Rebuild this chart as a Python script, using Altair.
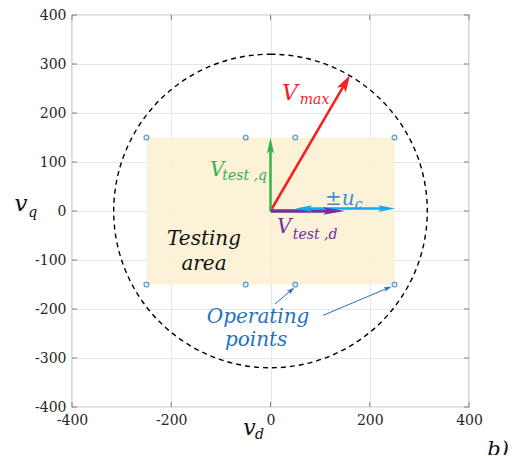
import math
import altair as alt
import pandas as pd

# ---------------- data ----------------
axis_min, axis_max = -400, 400
x_tick_values = [-400, -200, 0, 200, 400]
y_tick_values = [-400, -300, -200, -100, 0, 100, 200, 300, 400]

circle_radius = [320]

area_d = [-250, 250]
area_q = [-150, 150]

op_d = [-250, -50, 50, 250, -250, -50, 50, 250]
op_q = [150, 150, 150, 150, -150, -150, -150, -150]

# vectors: name, start d, start q, end d, end q
vec_names = ["Vmax", "Vtestq", "Vtestd", "uc_right", "uc_left", "ann1", "ann2"]
vec_d0 = [0, 0, 0, 150, 150, 9, 106]
vec_q0 = [0, 0, 0, 5, 5, -190, -213]
vec_d1 = [160, 0, 150, 251, 50, 48, 244]
vec_q1 = [277, 150, 0, 5, 5, -156, -154]

# texts
txt_pieces = ["Testing", "area", "Operating", "points",
              "V", "max", "V", "test ,q", "V", "test ,d", "±u", "c",
              "v", "q", "v", "d", "b)"]
txt_d = [-134, -134, -25, -29,
         23, 59, -122, -97, 13, 45, 110, 170,
         -516, -488, -55, -31, 437]
txt_q = [-69, -120, -229, -275,
         227, 219, 71, 63, -45, -57, 13, 5,
         -1, -13, -458, -466, -500]

# ---------------- styles ----------------
RED = "#f41f1f"
GREEN = "#35b24a"
PURPLE = "#7030a0"
CYAN = "#12aaf0"
BLUE_TXT = "#1f72c2"
UC_TXT = "#3d8ddb"
PT = "#2f86c6"
FILL = "#fcf0d2"

W, H = 397, 392
px_per_unit = W / 800

vec_style = {
    "Vmax": dict(color=RED, width=2.5, head=17, hw=0.3),
    "Vtestq": dict(color=GREEN, width=2.5, head=16, hw=0.22),
    "Vtestd": dict(color=PURPLE, width=3.5, head=22, hw=0.17),
    "uc_right": dict(color=CYAN, width=2.5, head=17, hw=0.2),
    "uc_left": dict(color=CYAN, width=2.5, head=17, hw=0.2),
    "ann1": dict(color=BLUE_TXT, width=1, head=8, hw=0.3),
    "ann2": dict(color=BLUE_TXT, width=1, head=8, hw=0.3),
}

txt_style = [
    ("center", 20, "#111111"), ("center", 20, "#111111"),
    ("center", 20, BLUE_TXT), ("center", 20, BLUE_TXT),
    ("left", 22, RED), ("left", 14, RED),
    ("left", 20, GREEN), ("left", 14, GREEN),
    ("left", 20, PURPLE), ("left", 14, PURPLE),
    ("left", 20, UC_TXT), ("left", 14, UC_TXT),
    ("left", 23, "#111111"), ("left", 14, "#111111"),
    ("left", 22, "#111111"), ("left", 14, "#111111"),
    ("left", 21, "#111111"),
]

# ---------------- tables ----------------
lines, heads = [], []
for n, a0, b0, a1, b1 in zip(vec_names, vec_d0, vec_q0, vec_d1, vec_q1):
    st = vec_style[n]
    dx, dy = a1 - a0, b1 - b0
    L = math.hypot(dx, dy)
    back = 0.7 * st["head"] / px_per_unit
    ex, ey = a1 - dx / L * back, b1 - dy / L * back
    lines.append(dict(x=a0, y=b0, x2=ex, y2=ey, color=st["color"], w=st["width"]))
    ang = math.degrees(math.atan2(dx, dy)) % 360
    hw = st["hw"]
    heads.append(dict(x=a1, y=b1, angle=ang, color=st["color"],
                      size=(2 * st["head"]) ** 2,
                      shape=f"M0,0 L{hw},1 L0,0.78 L{-hw},1 Z"))
lines_df = pd.DataFrame(lines)
heads_df = pd.DataFrame(heads)

txt_df = pd.DataFrame(dict(x=txt_d, y=txt_q, text=txt_pieces,
                           align=[s[0] for s in txt_style],
                           size=[s[1] for s in txt_style],
                           color=[s[2] for s in txt_style]))

xs = alt.Scale(domain=[axis_min, axis_max], nice=False, zero=False)
ys = alt.Scale(domain=[axis_min, axis_max], nice=False, zero=False)

LABEL_FONT = "DejaVu Serif"
LABEL_SIZE = 14
axis_common = dict(grid=True, gridColor="#e6e6e6", ticks=False, domain=False,
                   labelFont=LABEL_FONT, labelFontSize=LABEL_SIZE,
                   labelColor="#262626",
                   labelFlush=False, labelExpr="'' + datum.value")

# base with axes / grid
base_df = pd.DataFrame(dict(x=[axis_min, axis_max], y=[axis_min, axis_max]))
axes = alt.Chart(base_df).mark_point(opacity=0).encode(
    x=alt.X("x:Q", scale=xs, title=None,
            axis=alt.Axis(values=x_tick_values, labelPadding=6, **axis_common)),
    y=alt.Y("y:Q", scale=ys, title=None,
            axis=alt.Axis(values=y_tick_values, labelPadding=6, **axis_common)),
)

area = alt.Chart(pd.DataFrame(dict(x=[area_d[0]], x2=[area_d[1]],
                                   y=[area_q[0]], y2=[area_q[1]]))).mark_rect(
    fill=FILL, opacity=0.88).encode(x=alt.X("x:Q", scale=xs), x2="x2:Q",
                                    y=alt.Y("y:Q", scale=ys), y2="y2:Q")

circle = alt.Chart(pd.DataFrame(dict(x=[0], y=[0], r=circle_radius))).mark_arc(
    theta=0, theta2=6.2835, fill=None, stroke="black", strokeWidth=1.4,
    strokeDash=[5, 4]).encode(
    x=alt.X("x:Q", scale=xs), y=alt.Y("y:Q", scale=ys),
    radius=alt.Radius("r:Q", scale=alt.Scale(type="linear", domain=[0, 400],
                                             range=[0, H / 2], zero=True)))

# inward ticks on all sides
xt = pd.DataFrame(dict(v=x_tick_values))
yt = pd.DataFrame(dict(v=y_tick_values))
tick_color = "#808080"
ticks = [
    alt.Chart(xt).mark_rule(color=tick_color).encode(
        x=alt.X("v:Q", scale=xs), y=alt.value(H), y2=alt.value(H - 5)),
    alt.Chart(xt).mark_rule(color=tick_color).encode(
        x=alt.X("v:Q", scale=xs), y=alt.value(0), y2=alt.value(5)),
    alt.Chart(yt).mark_rule(color=tick_color).encode(
        y=alt.Y("v:Q", scale=ys), x=alt.value(0), x2=alt.value(5)),
    alt.Chart(yt).mark_rule(color=tick_color).encode(
        y=alt.Y("v:Q", scale=ys), x=alt.value(W), x2=alt.value(W - 5)),
]

pts = alt.Chart(pd.DataFrame(dict(x=op_d, y=op_q))).mark_point(
    shape="circle", size=22, filled=False, color=PT, strokeWidth=1.5).encode(
    x=alt.X("x:Q", scale=xs), y=alt.Y("y:Q", scale=ys))

arrow_lines = alt.Chart(lines_df).mark_rule(strokeCap="butt").encode(
    x=alt.X("x:Q", scale=xs), y=alt.Y("y:Q", scale=ys), x2="x2:Q", y2="y2:Q",
    color=alt.Color("color:N", scale=None),
    strokeWidth=alt.StrokeWidth("w:Q", scale=None))

arrow_heads = alt.Chart(heads_df).mark_point(filled=True, opacity=1,
                                             strokeWidth=0).encode(
    x=alt.X("x:Q", scale=xs), y=alt.Y("y:Q", scale=ys),
    angle=alt.Angle("angle:Q", scale=None),
    size=alt.Size("size:Q", scale=None),
    shape=alt.Shape("shape:N", scale=None),
    color=alt.Color("color:N", scale=None))

texts = []
for al in ["center", "left"]:
    texts.append(alt.Chart(txt_df[txt_df["align"] == al]).mark_text(
        align=al, baseline="alphabetic", font="DejaVu Serif",
        fontStyle="italic").encode(
        x=alt.X("x:Q", scale=xs), y=alt.Y("y:Q", scale=ys),
        text="text:N",
        size=alt.Size("size:Q", scale=None),
        color=alt.Color("color:N", scale=None)))

chart = alt.layer(axes, area, circle, *ticks, pts, arrow_lines, arrow_heads,
                  *texts).properties(
    width=W, height=H,
    autosize=alt.AutoSizeParams(type="none"),
    padding={"left": 64, "top": 7, "right": 44, "bottom": 48},
).configure(background="white", font=LABEL_FONT).configure_view(
    stroke="#808080", strokeWidth=1.2).configure_axis(
    labelFont=LABEL_FONT, labelFontSize=LABEL_SIZE, labelColor="#262626")

chart.save("out.html", embed_options={"renderer": "svg", "actions": False})
